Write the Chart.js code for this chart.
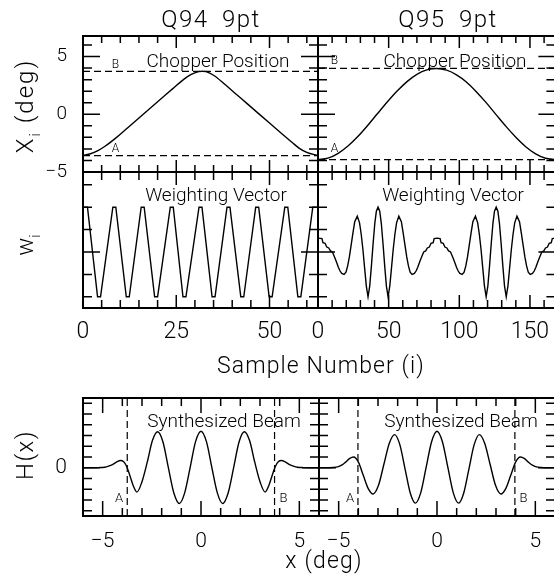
<!DOCTYPE html>
<html>
<head>
<meta charset="utf-8">
<title>Chopper position, weighting vector and synthesized beam</title>
<script src="https://cdn.jsdelivr.net/npm/chart.js@4.4.1/dist/chart.umd.min.js"></script>
<style>
  html, body { margin: 0; padding: 0; background: #fff; overflow: hidden; }
  #wrap { position: relative; width: 554px; height: 584px; overflow: hidden; background: #fff; }
  #wrap canvas { position: absolute; left: 0; top: 0; }
</style>
</head>
<body>
<div id="wrap">
  <canvas id="chopQ94" width="560" height="584"></canvas>
  <canvas id="chopQ95" width="560" height="584"></canvas>
  <canvas id="wtQ94" width="560" height="584"></canvas>
  <canvas id="wtQ95" width="560" height="584"></canvas>
  <canvas id="beamQ94" width="560" height="584"></canvas>
  <canvas id="beamQ95" width="560" height="584"></canvas>
</div>
<script>
// ---- Q94 (64 samples) ----
const q94ChopIdx = [0, 2, 4, 6, 9, 12, 15, 18, 21, 24, 27, 29, 31, 32, 33, 35, 38, 41, 44, 47, 50, 53, 56, 58, 60, 62, 63];
const q94ChopDeg = [-3.56, -3.42, -3.15, -2.75, -2.0, -1.16, -0.32, 0.52, 1.36, 2.2, 3.02, 3.45, 3.69, 3.73, 3.69, 3.38, 2.6, 1.76, 0.92, 0.08, -0.76, -1.6, -2.42, -2.95, -3.3, -3.5, -3.56];
const q94ChopLimits = [-3.58, 3.72];   // A, B

const q94WeightIdx = [0, 1.2, 3.9, 4.7, 8.0, 8.8, 11.6, 12.4, 15.6, 16.4, 19.2, 20.0, 23.4, 24.2, 26.8, 27.6,
  31.1, 31.9, 34.6, 35.4, 38.6, 39.4, 42.3, 43.1, 46.3, 47.1, 49.9, 50.7, 54.1, 54.9, 57.6, 58.4, 61.6, 63];
const q94Weight = [2, 2, -2, -2, 2, 2, -2, -2, 2, 2, -2, -2, 2, 2, -2, -2,
  2, 2, -2, -2, 2, 2, -2, -2, 2, 2, -2, -2, 2, 2, -2, -2, 2, 2];

const q94BeamX = [-6, -5.5, -5.2, -4.9, -4.7, -4.5, -4.3, -4.09, -3.93, -3.78, -3.63, -3.46, -3.26, -3.0, -2.73, -2.47,
  -2.2, -1.93, -1.66, -1.38, -1.1, -0.83, -0.55, -0.28, 0, 0.28, 0.55, 0.83, 1.1, 1.38, 1.66, 1.93,
  2.2, 2.47, 2.73, 3.0, 3.26, 3.46, 3.63, 3.78, 3.93, 4.09, 4.3, 4.5, 4.7, 4.9, 5.2, 5.5, 6];
const q94Beam = [0, 0, 0.01, 0.05, 0.15, 0.3, 0.52, 0.67, 0.55, 0.12, -0.65, -1.6, -2.27, -1.3, 0.54, 2.53,
  3.35, 2.37, 0.01, -2.35, -3.33, -2.34, 0.04, 2.41, 3.4, 2.41, 0.04, -2.34, -3.33, -2.35, 0.01, 2.37,
  3.35, 2.53, 0.54, -1.3, -2.27, -1.6, -0.65, 0.12, 0.55, 0.67, 0.52, 0.3, 0.15, 0.05, 0.01, 0, 0];
const q94BeamLimits = [-3.75, 3.74];

// ---- Q95 (168 samples) ----
const q95ChopIdx = [0, 7, 14, 21, 28, 35, 42, 49, 56, 63, 70, 77, 84, 91, 98, 105, 112, 119, 126, 133, 140, 147, 154, 161, 168];
const q95ChopDeg = [-3.93, -3.8, -3.4, -2.77, -1.95, -0.99, 0.04, 1.06, 2.01, 2.83, 3.46, 3.84, 3.97,
  3.82, 3.42, 2.8, 1.96, 1.01, -0.03, -1.05, -1.99, -2.81, -3.43, -3.81, -3.93];
const q95ChopLimits = [-3.93, 3.97];

const q95WeightIdx = [
  0, 2.8, 3.5, 5.0, 6.2, 7.6, 8.8, 10.2, 11.4, 12.4, 13.4, 14.4, 15.6, 16.8, 18.4, 19.8, 21.0, 22.2, 23.4, 24.6,
  26.0, 27.8, 29.4, 30.6, 31.8, 33.0, 34.2, 35.4, 36.6, 37.8, 39.0, 40.2, 41.3, 42.5,
  43.7, 44.8, 46.0, 47.2, 48.4, 49.6, 50.8, 52.0, 53.2, 54.4, 55.6, 57.2, 59.0, 60.4, 61.6, 62.8, 64.0, 65.2,
  66.6, 68.2, 69.4, 70.6, 71.6, 72.6, 73.6, 74.8, 76.2, 77.4, 78.8, 80.0, 81.5, 82.2, 84.3,
  86.4, 87.1, 88.6, 89.8, 91.2, 92.4, 93.8, 95.0, 96.0, 97.0, 98.0, 99.2, 100.4, 102.0, 103.4, 104.6, 105.8, 107.0,
  108.2, 109.6, 111.4, 113.0, 114.2, 115.4, 116.6, 117.8, 119.0, 120.2, 121.4, 122.6, 123.8, 124.9, 126.1,
  127.3, 128.4, 129.6, 130.8, 132.0, 133.2, 134.4, 135.6, 136.8, 138.0, 139.2, 140.8, 142.6, 144.0, 145.2, 146.4,
  147.6, 148.8, 150.2, 151.8, 153.0, 154.2, 155.2, 156.2, 157.2, 158.4, 159.8, 161.0, 162.4, 163.6, 165.1, 165.8, 168];
const q95Weight = [
  0.62, 0.6, 0.42, 0.39, 0.22, 0.18, 0.05, 0.0, -0.18, -0.34, -0.5, -0.68, -0.85, -0.96, -1.0, -0.9, -0.62, -0.22, 0.28, 0.8,
  1.35, 1.6, 1.3, 0.78, 0.1, -0.72, -1.52, -2.0, -1.52, -0.62, 0.38, 1.28, 1.82, 2.0,
  1.82, 1.28, 0.38, -0.62, -1.52, -2.0, -1.52, -0.72, 0.1, 0.78, 1.3, 1.6, 1.35, 0.8, 0.28, -0.22, -0.62, -0.9,
  -1.0, -0.96, -0.85, -0.68, -0.5, -0.34, -0.18, 0.0, 0.05, 0.18, 0.22, 0.39, 0.42, 0.6, 0.62,
  0.6, 0.42, 0.39, 0.22, 0.18, 0.05, 0.0, -0.18, -0.34, -0.5, -0.68, -0.85, -0.96, -1.0, -0.9, -0.62, -0.22, 0.28,
  0.8, 1.35, 1.6, 1.3, 0.78, 0.1, -0.72, -1.52, -2.0, -1.52, -0.62, 0.38, 1.28, 1.82, 2.0,
  1.82, 1.28, 0.38, -0.62, -1.52, -2.0, -1.52, -0.72, 0.1, 0.78, 1.3, 1.6, 1.35, 0.8, 0.28, -0.22,
  -0.62, -0.9, -1.0, -0.96, -0.85, -0.68, -0.5, -0.34, -0.18, 0.0, 0.05, 0.18, 0.22, 0.39, 0.42, 0.6, 0.62];

const q95BeamX = [-6, -5.6, -5.3, -5.05, -4.85, -4.65, -4.45, -4.24, -3.99, -3.745, -3.495, -3.25, -2.975, -2.7, -2.425, -2.15,
  -1.89, -1.625, -1.36, -1.1, -0.825, -0.55, -0.275, 0, 0.275, 0.55, 0.825, 1.1, 1.36, 1.625, 1.89,
  2.15, 2.425, 2.7, 2.975, 3.25, 3.495, 3.745, 3.99, 4.24, 4.45, 4.65, 4.85, 5.05, 5.3, 5.6, 6];
const q95Beam = [0, 0, 0.02, 0.08, 0.24, 0.52, 0.85, 1.0, 0.5, -0.73, -1.95, -2.45, -1.64, 0.32, 2.28, 3.09,
  2.15, -0.1, -2.36, -3.3, -2.32, 0.05, 2.42, 3.4, 2.42, 0.05, -2.32, -3.3, -2.36, -0.1, 2.15,
  3.09, 2.28, 0.32, -1.64, -2.45, -1.95, -0.73, 0.5, 1.0, 0.85, 0.52, 0.24, 0.08, 0.02, 0, 0];
const q95BeamLimits = [-4.02, 3.96];

// ---- axis ticks ----
const q94SampleTicks = [0, 5, 10, 15, 20, 25, 30, 35, 40, 45, 50, 55, 60];
const q94SampleLabels = [0, 25, 50];
const q95SampleTicks = [0, 10, 20, 30, 40, 50, 60, 70, 80, 90, 100, 110, 120, 130, 140, 150, 160];
const q95SampleLabels = [0, 50, 100, 150];
const chopTicks = [-5, -4, -3, -2, -1, 0, 1, 2, 3, 4, 5, 6];
const chopLabels = [-5, 0, 5];
const weightTicks = [-2, -1, 0, 1, 2, 3];
const beamXTicks = [-5, -4, -3, -2, -1, 0, 1, 2, 3, 4, 5];
const beamXLabels = [-5, 0, 5];
const beamYTicks = [-4, -3, -2, -1, 0, 1, 2, 3, 4, 5, 6];
const beamYLabels = [0];

const FONT = 'Roboto, "DejaVu Sans", sans-serif';
const CW = 560, CH = 584;
const X_ROOM = 50;   // height given to a labelled bottom axis

const pts = (xs, ys) => xs.map((x, k) => ({ x, y: ys[k] }));

// boxed frame with inward ticks on all four sides
const framePlugin = {
  id: 'frame',
  afterDatasetsDraw(chart, args, o) {
    if (!o || !o.xTicks) return;
    const { ctx, chartArea: a } = chart;
    const xs = chart.scales.x, ys = chart.scales.y;
    ctx.save();
    ctx.strokeStyle = '#000';
    ctx.lineWidth = 1.5;
    ctx.beginPath();
    o.xTicks.forEach(v => {
      const p = xs.getPixelForValue(v);
      const len = o.xMajor.includes(v) ? o.xLen[1] : o.xLen[0];
      ctx.moveTo(p, a.top); ctx.lineTo(p, a.top + len);
      ctx.moveTo(p, a.bottom); ctx.lineTo(p, a.bottom - len);
    });
    o.yTicks.forEach(v => {
      const p = ys.getPixelForValue(v);
      const len = o.yMajor.includes(v) ? o.yLen[1] : o.yLen[0];
      ctx.moveTo(a.left, p); ctx.lineTo(a.left + len, p);
      ctx.moveTo(a.right, p); ctx.lineTo(a.right - len, p);
    });
    ctx.stroke();
    ctx.lineWidth = 2;
    ctx.strokeRect(a.left, a.top, a.right - a.left, a.bottom - a.top);
    ctx.restore();
  }
};

function drawNote(ctx, n) {
  ctx.save();
  ctx.translate(n.x, n.y);
  if (n.rot) ctx.rotate(n.rot);
  ctx.fillStyle = '#000';
  ctx.textBaseline = 'alphabetic';
  ctx.textAlign = 'left';
  ctx.letterSpacing = (n.ls || 0) + 'px';
  ctx.wordSpacing = (n.ws || 0) + 'px';
  const parts = n.parts || [{ t: n.t }];
  const fonts = parts.map(p => '300 ' + (p.sub ? Math.round(n.size * 0.62) : n.size) + 'px ' + FONT);
  const widths = parts.map((p, k) => { ctx.font = fonts[k]; return ctx.measureText(p.t).width; });
  let x = -widths.reduce((s, w) => s + w, 0) / 2;
  parts.forEach((p, k) => {
    ctx.font = fonts[k];
    ctx.fillText(p.t, x, p.sub ? n.size * 0.28 : 0);
    x += widths[k];
  });
  ctx.letterSpacing = '0px';
  ctx.wordSpacing = '0px';
  ctx.restore();
}

const notesPlugin = {
  id: 'notes',
  afterDraw(chart, args, o) {
    if (!o || !o.items) return;
    o.items.forEach(n => drawNote(chart.ctx, n));
  }
};

Chart.register(framePlugin, notesPlugin);

function axis(min, max, labels, size, pad) {
  const s = {
    type: 'linear', min, max, display: !!labels,
    grid: { display: false, drawTicks: false },
    border: { display: false }
  };
  if (labels) {
    s.afterBuildTicks = sc => { sc.ticks = labels.map(v => ({ value: v })); };
    s.ticks = {
      autoSkip: false, maxRotation: 0, padding: pad, color: '#000',
      font: { family: FONT, size, weight: 300 },
      callback: v => (v < 0 ? '\u2212' + Math.abs(v) : String(v))
    };
  }
  return s;
}

function curve(data, smooth) {
  return {
    data, borderColor: '#000', borderWidth: 1.4, pointRadius: 0, fill: false,
    tension: 0, cubicInterpolationMode: smooth ? 'monotone' : 'default'
  };
}

function dashed(data) {
  return { data, borderColor: '#000', borderWidth: 1.2, borderDash: [7, 4], pointRadius: 0, fill: false, tension: 0 };
}

function panel(id, box, xScale, yScale, datasets, frame, items) {
  const pad = { left: box.left, top: box.top, right: CW - box.right, bottom: CH - box.bottom };
  // labelled axes get a fixed box so the plot area lands exactly on `box`
  if (yScale.display) {
    const w = box.left;
    yScale.afterFit = sc => { sc.width = w; };
    pad.left = 0;
  }
  if (xScale.display) {
    xScale.afterFit = sc => { sc.height = X_ROOM; };
    pad.bottom -= X_ROOM;
  }
  return new Chart(document.getElementById(id), {
    type: 'line',
    data: { datasets },
    options: {
      responsive: false,
      animation: false,
      events: [],
      layout: { padding: pad },
      scales: { x: xScale, y: yScale },
      plugins: {
        legend: { display: false },
        tooltip: { enabled: false },
        frame,
        notes: { items: items || [] }
      }
    }
  });
}

const chopFrame = (xt, xm) => ({ xTicks: xt, xMajor: xm, xLen: [7, 12], yTicks: chopTicks, yMajor: chopLabels, yLen: [9, 17] });
const wtFrame = (xt, xm) => ({ xTicks: xt, xMajor: xm, xLen: [8, 13], yTicks: weightTicks, yMajor: [0], yLen: [9, 17] });
const beamFrame = { xTicks: beamXTicks, xMajor: beamXLabels, xLen: [8, 15], yTicks: beamYTicks, yMajor: beamYLabels, yLen: [9, 17] };

const hLine = (x0, x1, v) => [{ x: x0, y: v }, { x: x1, y: v }];
const vLine = (y0, y1, v) => [{ x: v, y: y0 }, { x: v, y: y1 }];

// top row: chopper position
panel('chopQ94', { left: 83, right: 318, top: 36, bottom: 172 },
  axis(0, 63), axis(-5, 6.78, chopLabels, 19, 16),
  [curve(pts(q94ChopIdx, q94ChopDeg), true),
   dashed(hLine(0, 63, q94ChopLimits[0])), dashed(hLine(0, 63, q94ChopLimits[1]))],
  chopFrame(q94SampleTicks, q94SampleLabels),
  [
    { t: 'Q94 9pt', x: 211, y: 27, size: 24, ls: 1.5, ws: 6 },
    { t: 'Q95 9pt', x: 448, y: 27, size: 24, ls: 1.5, ws: 6 },
    { t: 'Chopper Position', x: 218, y: 67, size: 19 },
    { t: 'B', x: 115.5, y: 68, size: 12 },
    { t: 'A', x: 115.5, y: 152, size: 12 },
    { parts: [{ t: 'X' }, { t: 'i', sub: true }, { t: ' (deg)' }], x: 33, y: 106, size: 24, ls: 2, rot: -Math.PI / 2 },
    { parts: [{ t: 'w' }, { t: 'i', sub: true }], x: 33, y: 245, size: 24, rot: -Math.PI / 2 },
    { t: 'Sample Number (i)', x: 321, y: 373, size: 23, ls: 1.1 },
    { t: 'H(x)', x: 33, y: 455, size: 24, ls: 1.5, rot: -Math.PI / 2 },
    { t: 'x (deg)', x: 324, y: 568, size: 23, ls: 1.2 }
  ]);

panel('chopQ95', { left: 318, right: 555.4, top: 36, bottom: 172 },
  axis(0, 168), axis(-5, 6.78),
  [curve(pts(q95ChopIdx, q95ChopDeg), true),
   dashed(hLine(0, 168, q95ChopLimits[0])), dashed(hLine(0, 168, q95ChopLimits[1]))],
  chopFrame(q95SampleTicks, q95SampleLabels),
  [
    { t: 'Chopper Position', x: 455, y: 67, size: 19 },
    { t: 'B', x: 334.5, y: 64, size: 12 },
    { t: 'A', x: 334.5, y: 152, size: 12 }
  ]);

// middle row: weighting vector
panel('wtQ94', { left: 83, right: 318, top: 172, bottom: 308 },
  axis(0, 63, q94SampleLabels, 23, 10), axis(-2.5, 3.57),
  [curve(pts(q94WeightIdx, q94Weight), false)],
  wtFrame(q94SampleTicks, q94SampleLabels),
  [{ t: 'Weighting Vector', x: 216, y: 201, size: 19 }]);

panel('wtQ95', { left: 318, right: 555.4, top: 172, bottom: 308 },
  axis(0, 168, q95SampleLabels, 23, 10), axis(-2.5, 3.57),
  [curve(pts(q95WeightIdx, q95Weight), false)],
  wtFrame(q95SampleTicks, q95SampleLabels),
  [{ t: 'Weighting Vector', x: 453, y: 201, size: 19 }]);

// bottom row: synthesized beam
panel('beamQ94', { left: 83, right: 319, top: 398, bottom: 516 },
  axis(-6, 6, beamXLabels, 21, 13), axis(-4.5, 6.5, beamYLabels, 21, 16),
  [curve(pts(q94BeamX, q94Beam), true),
   dashed(vLine(-4.5, 6.5, q94BeamLimits[0])), dashed(vLine(-4.5, 6.5, q94BeamLimits[1]))],
  beamFrame,
  [
    { t: 'Synthesized Beam', x: 224, y: 427, size: 19 },
    { t: 'A', x: 119, y: 501.5, size: 13 },
    { t: 'B', x: 283.5, y: 501.5, size: 13 }
  ]);

panel('beamQ95', { left: 319, right: 555, top: 398, bottom: 516 },
  axis(-6, 6, beamXLabels, 21, 13), axis(-4.5, 6.5),
  [curve(pts(q95BeamX, q95Beam), true),
   dashed(vLine(-4.5, 6.5, q95BeamLimits[0])), dashed(vLine(-4.5, 6.5, q95BeamLimits[1]))],
  beamFrame,
  [
    { t: 'Synthesized Beam', x: 461, y: 427, size: 19 },
    { t: 'A', x: 350, y: 501.5, size: 13 },
    { t: 'B', x: 523.5, y: 501.5, size: 13 }
  ]);
</script>
</body>
</html>
